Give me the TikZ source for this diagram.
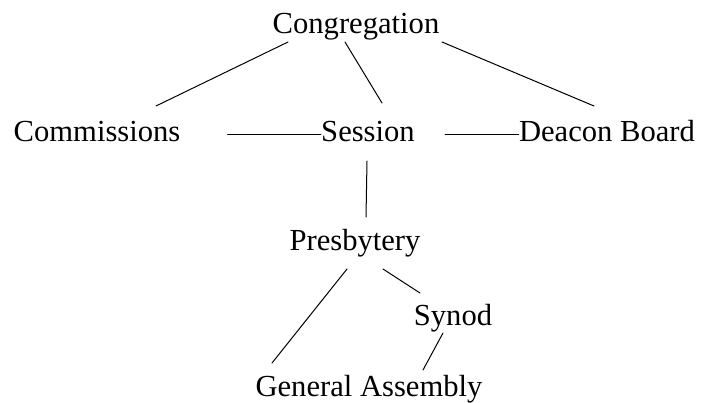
\documentclass[tikz,border=0pt]{standalone}
\usepackage{fontspec}
\setmainfont{Liberation Serif}
\usepackage{tikz}
\usetikzlibrary{calc}
\def\figScale{0.5pt}
\def\fScale{\fontsize{15.3}{18}\selectfont}
\def\lineThickness{(0.5pt)}
\tikzset{lbl/.style={inner sep=0,text height=0.84em,text depth=0.11em,font=\fScale}}
\tikzset{link/.style={black,line width=\lineThickness,line cap=round}}
\begin{document}
\begin{tikzpicture}[x=\figScale,y=-\figScale]\useasboundingbox (0,0) rectangle (701,402);
\node[lbl](cong) at (356,26){Congregation};\node[lbl](comm) at (97,134){Commissions};\node[lbl](sess) at (368,134){Session};\node[lbl](deac) at (607,134){Deacon Board};
\node[lbl](pres) at (355,243){Presbytery};\node[lbl](syn) at (453,318){Synod};\node[lbl](ga) at (369,389){General Assembly};
\draw[link]($(cong)+(-68,16)$)--($(comm)+(59,-28)$);\draw[link]($(cong)+(-11,16)$)--($(sess)+(14,-31)$);\draw[link]($(cong)+(86,16)$)--($(deac)+(-13,-28)$);
\draw[link]($(comm.east)+(47,0)$)--(sess.west);\draw[link]($(sess.east)+(30,0)$)--(deac.west);
\draw[link]($(sess)+(-1,27)$)--($(pres)+(11,-26)$);
\draw[link]($(pres)+(-8,26)$)--($(ga)+(-97,-26)$);\draw[link]($(pres)+(28,26)$)--($(syn)+(-33,-25)$);\draw[link]($(syn)+(-10,15)$)--($(ga)+(54,-19)$);
\end{tikzpicture}
\end{document}
